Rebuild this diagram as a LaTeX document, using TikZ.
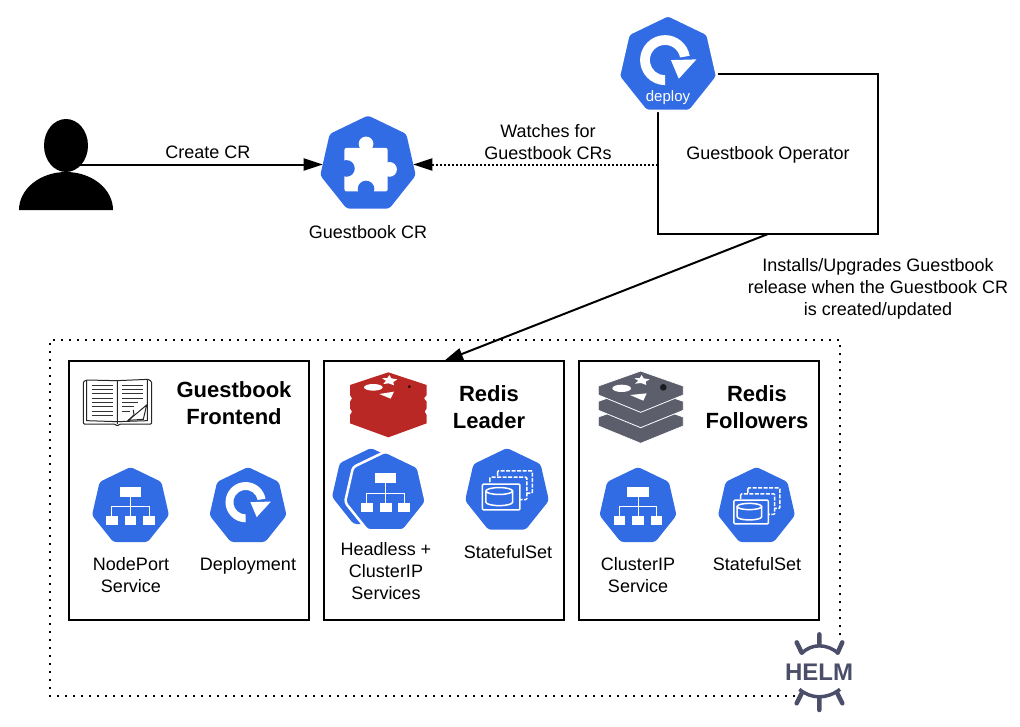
\documentclass[tikz,border=0pt]{standalone}
\usepackage{fontspec}
\setmainfont{Liberation Sans}
\usetikzlibrary{calc}
\usetikzlibrary{shapes.geometric}
\usetikzlibrary{arrows.meta}
\definecolor{kubeblue}{HTML}{326CE5}
\definecolor{redisred}{HTML}{B92825}
\definecolor{redisgrey}{HTML}{5C5E6C}
\definecolor{helmink}{HTML}{4B4E69}
\tikzstyle{hept}=[regular polygon,regular polygon sides=7,fill=kubeblue,inner sep=0pt,outer sep=0pt,rounded corners=3pt]
\tikzstyle{heptring}=[hept,draw=white,line width=2.5pt]
\tikzstyle{lbl}=[font=\fontsize{18}{22}\selectfont,align=center,inner sep=0pt]
\tikzstyle{headlbl}=[font=\fontsize{22}{27}\selectfont\bfseries,align=center,inner sep=0pt]
\tikzstyle{partbox}=[draw=black,line width=2pt,minimum width=240pt,minimum height=259pt,inner sep=0pt,outer sep=0pt]
\tikzstyle{link}=[line width=2pt,-{Triangle[length=19pt,width=12pt]}]
\tikzstyle{watchlink}=[line width=2pt,dash pattern=on 2pt off 2pt,-{Triangle[length=19pt,width=12pt]}]
\tikzstyle{releasedots}=[line width=1.6pt,dash pattern=on 1.6pt off 6.4pt]
\newcommand{\icondeploy}[3]{ % center x, center y, radius
\begin{scope}[shift={(#1,#2)},x=#3pt,y=-#3pt]
  \fill[white] (-.06,.40) arc (90:350:.51) -- ($(-.06,-.11)+(350:.31)$) arc (350:90:.31) -- cycle;
  \fill[white] (.06,-.11) -- (.58,-.125) -- (.22,.27) -- cycle;
\end{scope}
}
\newcommand{\iconservice}[3]{
\begin{scope}[shift={(#1,#2)},x=#3pt,y=-#3pt]
  \draw[white,line width=1pt] (0,-.25) -- (0,0) (-.47,.25) -- (-.47,0) -- (.47,0) -- (.47,.25) (0,0) -- (0,.25);
  \fill[white] (-.27,-.49) rectangle (.27,-.25);
  \foreach \bx in {-.47,0,.47} {
    \fill[white] (\bx-.15,.24) rectangle (\bx+.15,.47);
  }
\end{scope}
}
\newcommand{\iconstateful}[3]{
\begin{scope}[shift={(#1,#2)},x=#3pt,y=-#3pt]
  \draw[white,line width=1.5pt,dash pattern=on 4pt off 1.5pt,rounded corners=1pt] (-.22,-.47) rectangle (.59,.05);
  \draw[white,line width=1.5pt,dash pattern=on 4pt off 1.5pt,fill=kubeblue,rounded corners=1pt] (-.40,-.32) rectangle (.46,.2);
  \draw[white,line width=1.5pt,fill=kubeblue,rounded corners=1pt] (-.57,-.16) rectangle (.30,.44);
  \draw[white,line width=1.5pt] (-.49,.0) -- (-.49,.26) arc (180:0:.31 and .08) -- (.13,.0);
  \draw[white,line width=1.5pt] (-.18,.0) ellipse (.31 and .08);
\end{scope}
}
\newcommand{\iconpuzzle}[3]{
\begin{scope}[shift={(#1,#2)},x=#3pt,y=-#3pt]
  \fill[white,rounded corners=2pt] (-.48,-.34) rectangle (.40,.55);
  \fill[white] (-.04,-.42) circle (.15);
  \fill[white] (.44,.10) circle (.15);
  \fill[kubeblue] (-.44,.08) circle (.17);
  \fill[kubeblue] (-.04,.50) circle (.17);
\end{scope}
}
\newcommand{\redislayer}[1]{ % y offset of the layer, in crop units
  \draw[white,fill=redisgrey,line width=.8pt] (197,33+#1) -- (325,78+#1) -- (325,105+#1) -- (197,157+#1) -- (70,105+#1) -- (70,78+#1) -- cycle;
}

\begin{document}
\begin{tikzpicture}[x=1pt,y=-1pt]
  \useasboundingbox (0,0) rectangle (1020,726);
  % release outline, open at the helm logo
  \draw[releasedots] (795,696) -- (50,696) -- (50,340) -- (840,340) -- (840,638);

  % user
  \node[ellipse,fill=black,minimum width=44pt,minimum height=53pt,inner sep=0pt] (userhead) at (66,145.5) {};
  \fill[black] (19,210) arc (180:360:47 and 38) -- cycle;
  \coordinate (userhand) at (78,164.5);

  \node[draw=black,line width=2pt,minimum width=220pt,minimum height=160pt,inner sep=0pt,outer sep=0pt] (opbox) at (768,154) {};
  \node[lbl] (optxt) at (768,154.5) {Guestbook Operator};
  \node[hept,minimum size=98pt] (crhex) at (368,164.5) {};
  \iconpuzzle{368}{164.5}{49}
  \node[heptring,minimum size=101pt] (deployhex) at (668,65.5) {};
  \icondeploy{668}{65.5}{49}
  \node[font=\fontsize{15}{18}\selectfont,text=white,inner sep=0pt] (deploytxt) at (668,98) {deploy};

  \node[partbox] (frontbox) at (189,490.5) {};
  \node[partbox] (leaderbox) at (444,490.5) {};
  \node[partbox] (followbox) at (699,490.5) {};

  \draw[link] (userhand) -- (crhex.west);
  \draw[watchlink] (opbox.west |- crhex.east) -- (crhex.east);
  \draw[link] (opbox.south) -- (leaderbox.north);

  \node[lbl] (createtxt) at (208,152) {Create CR};
  \node[lbl] (crtxt) at (368,232) {Guestbook CR};
  \node[lbl] (watchtxt) at (548,142) {Watches for\\Guestbook CRs};
  \node[lbl] (installtxt) at (878,289) {Installs/Upgrades Guestbook\\release when the Guestbook CR\\is created/updated};

  % frontend
  \begin{scope}[shift={(60,360)},x=.3333pt,y=-.3333pt]
    \draw[black!85,line width=1pt,rounded corners=1pt,fill=white] (70,65) -- (80,60) -- (170,62) -- (265,58) -- (275,65) -- (275,192) -- (180,192) -- (172,198) -- (164,192) -- (70,192) -- cycle;
    \draw[black!85,line width=1pt] (172,62) -- (172,192) (80,60) -- (80,182) -- (172,185) -- (262,182) -- (262,58);
    \foreach \ly [count=\li] in {75,88,101,114,127,140,153,166} {
      \draw[black!80,line width=.8pt] (95,\ly) -- (160,\ly);
      \ifnum\li<5 \draw[black!80,line width=.8pt] (185,\ly) -- (250,\ly); \fi
    }
    \draw[black!80,line width=.8pt] (185,127) -- (235,127) (185,140) -- (222,140) (185,153) -- (210,153);
    \draw[black!85,line width=1pt,fill=white] (205,181) -- (260,135) -- (250,178) -- cycle;
    \draw[black!85,line width=1pt] (220,150) -- (222,165) -- (205,181);
  \end{scope}
  \node[headlbl] (frontttl) at (234,403.5) {Guestbook\\Frontend};
  \node[hept,minimum size=79pt] (nodeporthex) at (130.5,506.5) {};
  \iconservice{130.5}{506.5}{39.5}
  \node[hept,minimum size=79pt] (deploymenthex) at (248,506.5) {};
  \icondeploy{248}{506.5}{39.5}
  \node[lbl] (nodeporttxt) at (131,575) {NodePort\\Service};
  \node[lbl] (deploymenttxt) at (248,566) {Deployment};

  % leader
  \begin{scope}[shift={(320,360)},x=.3333pt,y=-.3333pt]
    \fill[redisred] (205,37) -- (320,75) -- (320,105) -- (312,115) -- (320,125) -- (320,145) -- (314,155) -- (320,165) -- (320,190) -- (205,232) -- (90,190) -- (90,165) -- (96,155) -- (90,145) -- (90,125) -- (96,115) -- (90,105) -- (90,75) -- cycle;
    \fill[white] (160,82) ellipse (28 and 10);
    \fill[white] (208,45) -- (214,55) -- (232,58) -- (220,66) -- (222,76) -- (206,70) -- (190,72) -- (198,62) -- (186,55) -- (202,54) -- cycle;
    \fill[white] (178,102) -- (222,95) -- (212,116) -- cycle;
    \fill[black!70!redisred] (268,80) circle (5);
  \end{scope}
  \node[headlbl] (leaderttl) at (489,407.5) {Redis\\Leader};
  \node[hept,minimum size=80pt] (headbackhex) at (371,488) {};
  \node[heptring,minimum size=83pt] (headlesshex) at (385.5,493) {};
  \iconservice{385.5}{493}{40}
  \node[hept,minimum size=86pt] (leadstatehex) at (507,491) {};
  \iconstateful{507}{491}{43}
  \node[lbl] (headlesstxt) at (386,571.5) {Headless +\\ClusterIP\\Services};
  \node[lbl] (leadstatetxt) at (508,552) {StatefulSet};

  % followers
  \begin{scope}[shift={(575,360)},x=.3333pt,y=-.3333pt]
    \redislayer{93}
    \redislayer{46}
    \redislayer{0}
    \fill[white] (140,85) ellipse (28 and 11);
    \fill[white] (200,45) -- (206,55) -- (224,58) -- (212,65) -- (214,75) -- (198,69) -- (180,71) -- (190,62) -- (178,55) -- (194,54) -- cycle;
    \fill[white] (165,105) -- (215,100) -- (205,122) -- cycle;
    \fill[black!70!redisgrey] (265,82) circle (10);
  \end{scope}
  \node[headlbl] (followttl) at (757,407.5) {Redis\\Followers};
  \node[hept,minimum size=79pt] (clusteriphex) at (638,506.5) {};
  \iconservice{638}{506.5}{39.5}
  \node[hept,minimum size=79pt] (followstatehex) at (756.5,506.5) {};
  \iconstateful{756.5}{506.5}{39.5}
  \node[lbl] (clusteriptxt) at (638,575) {ClusterIP\\Service};
  \node[lbl] (followstatetxt) at (757,564) {StatefulSet};

  % helm
  \node[font=\fontsize{24}{28}\selectfont\bfseries,text=helmink,inner sep=0pt] (helmtxt) at (819,672) {HELM};
  \begin{scope}[shift={(760,610)},x=.3333pt,y=-.3333pt]
    \draw[helmink,line width=3.5pt] (125,130) .. controls (155,100) and (200,100) .. (235,130);
    \draw[helmink,line width=3.5pt] (118,238) .. controls (155,268) and (200,268) .. (240,238);
    \draw[helmink,line width=4.5pt,line cap=round] (178,73) -- (178,105) (110,97) -- (125,128) (247,97) -- (233,128);
    \draw[helmink,line width=4.5pt,line cap=round] (178,300) -- (178,262) (110,280) -- (125,250) (247,280) -- (232,250);
  \end{scope}
\end{tikzpicture}
\end{document}
